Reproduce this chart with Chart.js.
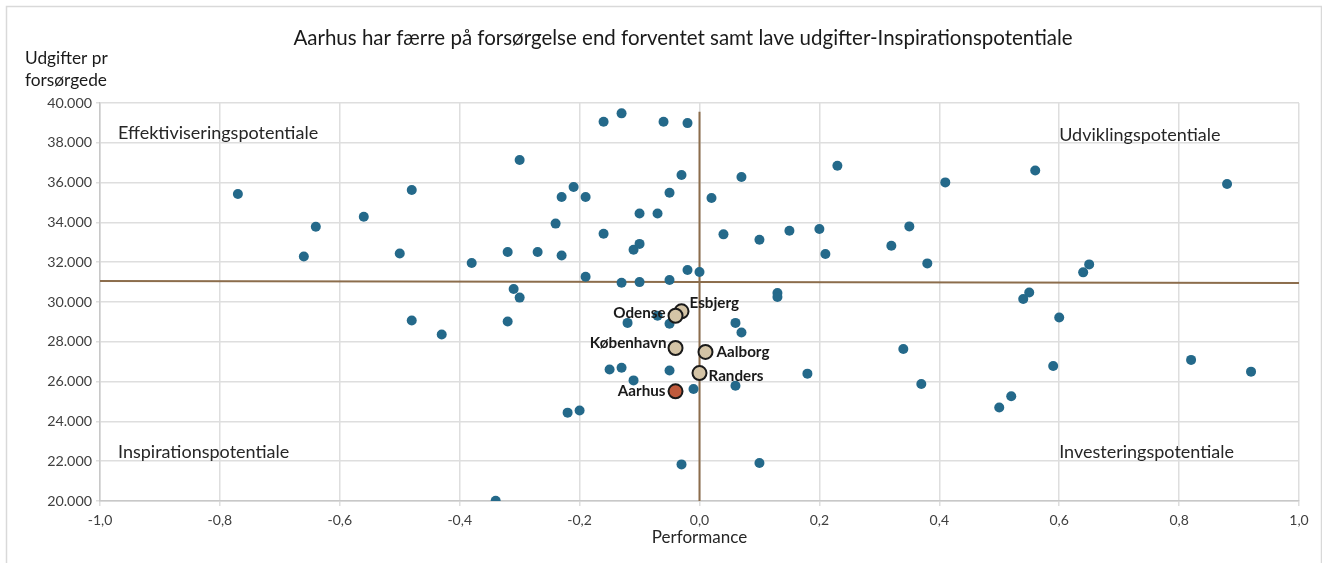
<!DOCTYPE html>
<html lang="da">
<head>
<meta charset="UTF-8">
<title>Performance og udgifter</title>
<script src="https://cdn.jsdelivr.net/npm/chart.js"></script>
<style>
  body { margin: 0; background: #fff; }
  canvas { display: block; }
</style>
</head>
<body>
<canvas id="graf" width="1322" height="563"></canvas>
<script>
// Øvrige kommuner: performance (x) og udgifter pr forsørgede (y)
const performance = [
  -0.77, -0.66, -0.64, -0.56, -0.50, -0.48, -0.48, -0.43, -0.38, -0.34,
  -0.32, -0.32, -0.31, -0.30, -0.30, -0.27, -0.24, -0.23, -0.23, -0.22,
  -0.21, -0.20, -0.19, -0.19, -0.16, -0.16, -0.15, -0.13, -0.13, -0.13,
  -0.12, -0.11, -0.11, -0.10, -0.10, -0.10, -0.07, -0.07, -0.06, -0.05,
  -0.05, -0.05, -0.05, -0.03, -0.03, -0.02, -0.02, -0.01, 0.00, 0.02,
  0.04, 0.06, 0.06, 0.07, 0.07, 0.10, 0.10, 0.13, 0.13, 0.15,
  0.18, 0.20, 0.21, 0.23, 0.32, 0.34, 0.35, 0.37, 0.38, 0.41,
  0.50, 0.52, 0.54, 0.55, 0.56, 0.59, 0.60, 0.64, 0.65, 0.82,
  0.88, 0.92
];
const udgifter = [
  35430, 32290, 33780, 34280, 32440, 35630, 29070, 28370, 31960, 20010,
  32510, 29020, 30650, 30220, 37140, 32510, 33940, 35280, 32340, 24440,
  35780, 24550, 35280, 31270, 39060, 33430, 26610, 39480, 30970, 26700,
  28950, 32630, 26060, 34450, 32920, 31000, 34450, 29310, 39060, 35490,
  31110, 28910, 26560, 36380, 21840, 38990, 31610, 25630, 31510, 35230,
  33400, 28950, 25790, 36280, 28470, 33130, 21910, 30450, 30250, 33580,
  26400, 33670, 32410, 36850, 32830, 27640, 33800, 25880, 31940, 36010,
  24700, 25260, 30150, 30480, 36610, 26780, 29220, 31490, 31890, 27090,
  35930, 26500
];

// Fremhævede byer
const byer = ['Esbjerg', 'Odense', 'København', 'Aalborg', 'Randers', 'Aarhus'];
const byPerformance = [-0.03, -0.04, -0.04, 0.01, 0.00, -0.04];
const byUdgifter = [29530, 29310, 27690, 27490, 26430, 25510];

// Referencelinjer
const vandretX = [-1, 1];
const vandretY = [31055, 30955];
const lodretX = [0, 0];
const lodretY = [20000, 39560];

const kvadrantTekster = ['Effektiviseringspotentiale', 'Udviklingspotentiale', 'Inspirationspotentiale', 'Investeringspotentiale'];

const tilPunkter = (xs, ys) => xs.map((x, i) => ({ x: x, y: ys[i] }));

Chart.defaults.font.family = 'Lato, "Open Sans", sans-serif';
Chart.defaults.color = '#404040';

// tekster og ramme som Chart.js ikke selv tegner
const tekster = {
  id: 'tekster',
  beforeDraw(chart) {
    const ctx = chart.ctx;
    ctx.save();
    ctx.fillStyle = '#fff';
    ctx.fillRect(0, 0, chart.width, chart.height);
    ctx.strokeStyle = '#d9d9d9';
    ctx.lineWidth = 1.5;
    ctx.strokeRect(6.5, 6.5, 1315, 600);
    ctx.restore();
  },
  afterDraw(chart) {
    const ctx = chart.ctx;
    const xs = chart.scales.x, ys = chart.scales.y;
    ctx.save();
    ctx.fillStyle = '#1a1a1a';
    ctx.textBaseline = 'middle';

    ctx.font = '20.5px Lato';
    ctx.textAlign = 'center';
    ctx.fillText('Aarhus har færre på forsørgelse end forventet samt lave udgifter-Inspirationspotentiale', 683, 38);

    ctx.font = '17.3px Lato';
    ctx.textAlign = 'left';
    ctx.fillText('Udgifter pr', 25, 58);
    ctx.fillText('forsørgede', 25, 80);

    // kvadrant-navne
    ctx.font = '18px Lato';
    ctx.fillStyle = '#262626';
    const kx = [-0.97, 0.6, -0.97, 0.6];
    const ky = [38500, 38400, 22450, 22470];
    kvadrantTekster.forEach((t, i) => {
      ctx.fillText(t, xs.getPixelForValue(kx[i]), ys.getPixelForValue(ky[i]));
    });

    // bynavne ved de fremhævede punkter
    const placering = {
      'Esbjerg': [8, -8, 'left'],
      'Odense': [-10, -3, 'right'],
      'København': [-9, -5, 'right'],
      'Aalborg': [11, 0, 'left'],
      'Randers': [9, 3, 'left'],
      'Aarhus': [-10, 0, 'right']
    };
    ctx.font = 'bold 15.2px Lato';
    ctx.fillStyle = '#1a1a1a';
    byer.forEach((navn, i) => {
      const p = placering[navn];
      const px = xs.getPixelForValue(byPerformance[i]);
      const py = ys.getPixelForValue(byUdgifter[i]);
      ctx.textAlign = p[2];
      ctx.fillText(navn, px + p[0], py + p[1]);
    });
    ctx.restore();
  }
};

const byFarver = byer.map(n => n === 'Aarhus' ? '#c05a3c' : '#d4c4a6');

new Chart(document.getElementById('graf'), {
  type: 'scatter',
  data: {
    datasets: [
      {
        label: 'Byer',
        data: tilPunkter(byPerformance, byUdgifter),
        backgroundColor: byFarver,
        borderColor: '#1a1a1a',
        borderWidth: 2,
        pointRadius: 7,
        order: 1
      },
      {
        label: 'Kommuner',
        data: tilPunkter(performance, udgifter),
        backgroundColor: '#24698a',
        borderColor: '#24698a',
        borderWidth: 0,
        pointRadius: 5,
        order: 2
      },
      {
        label: 'Vandret',
        data: tilPunkter(vandretX, vandretY),
        showLine: true,
        borderColor: '#8c6d4c',
        borderWidth: 2,
        pointRadius: 0,
        order: 3
      },
      {
        label: 'Lodret',
        data: tilPunkter(lodretX, lodretY),
        showLine: true,
        borderColor: '#8c6d4c',
        borderWidth: 2,
        pointRadius: 0,
        order: 3
      }
    ]
  },
  options: {
    responsive: false,
    animation: false,
    events: [],
    layout: { padding: { left: 0, right: 23, top: 103, bottom: 0 } },
    plugins: {
      legend: { display: false },
      tooltip: { enabled: false }
    },
    scales: {
      x: {
        type: 'linear',
        min: -1,
        max: 1,
        afterFit(scale) { scale.height = 62; },
        ticks: {
          stepSize: 0.2,
          padding: 6,
          font: { size: 14 },
          color: '#404040',
          callback: v => (Math.abs(v) < 1e-9 ? 0 : v).toFixed(1).replace('.', ',')
        },
        grid: { color: '#dedede', lineWidth: 1.5, tickLength: 5 },
        border: { color: '#c8c8c8', width: 1.5 },
        title: {
          display: true,
          text: 'Performance',
          font: { size: 17 },
          color: '#262626',
          padding: { top: 0, bottom: 15 }
        }
      },
      y: {
        min: 20000,
        max: 40000,
        afterFit(scale) { scale.width = 100; },
        ticks: {
          stepSize: 2000,
          padding: 4,
          font: { size: 14.3 },
          color: '#404040',
          callback: v => String(Math.round(v)).replace(/\B(?=(\d{3})+(?!\d))/g, '.')
        },
        grid: { color: '#dedede', lineWidth: 1.5, tickLength: 4 },
        border: { color: '#c8c8c8', width: 1.5 }
      }
    }
  },
  plugins: [tekster]
});
</script>
</body>
</html>
